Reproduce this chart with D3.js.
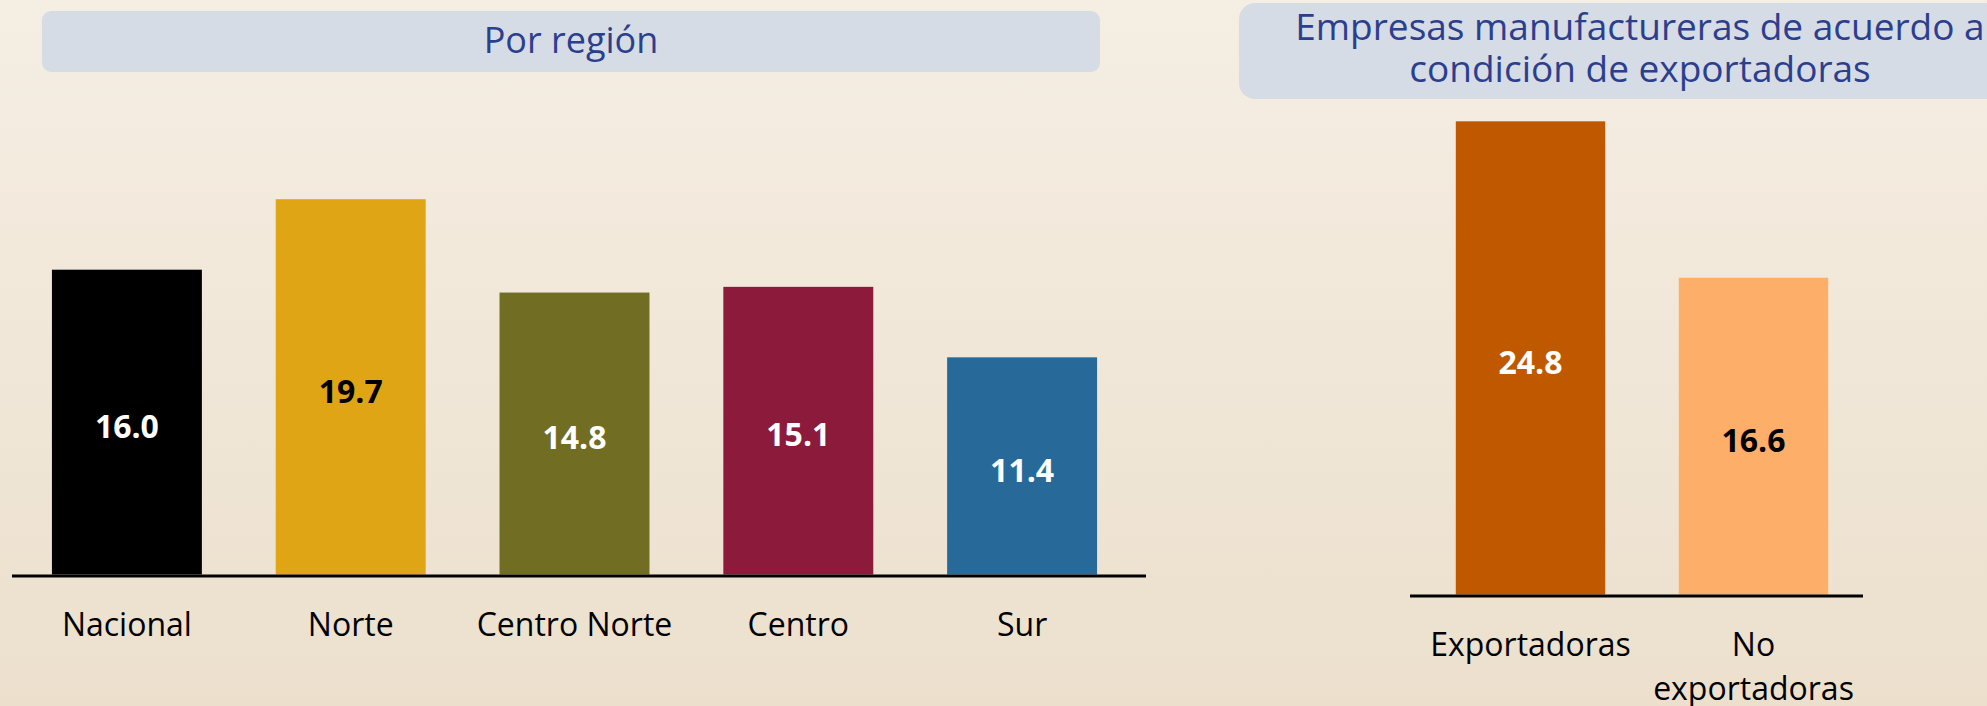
<!DOCTYPE html>
<html>
<head>
<meta charset="utf-8">
<script src="https://cdn.jsdelivr.net/npm/d3@7"></script>
<style>
  html, body { margin: 0; padding: 0; }
  svg { display: block; }
</style>
</head>
<body>
<script>
// ---- data ----
const regionCategories = ["Nacional", "Norte", "Centro Norte", "Centro", "Sur"];
const regionValues = [16.0, 19.7, 14.8, 15.1, 11.4];
const regionColors = ["#000000", "#DFA514", "#716D23", "#8C1B3B", "#276A99"];
const regionLabelColors = ["#ffffff", "#000000", "#ffffff", "#ffffff", "#ffffff"];
const regionTitle = "Por región";

const exportCategories = ["Exportadoras", "No exportadoras"];
const exportValues = [24.8, 16.6];
const exportColors = ["#C05800", "#FDAE68"];
const exportLabelColors = ["#ffffff", "#000000"];
const exportTitle = ["Empresas manufactureras de acuerdo a", "condición de exportadoras"];

// ---- setup ----
const W = 1987, H = 706;
const svg = d3.select("body").append("svg").attr("width", W).attr("height", H);

const defs = svg.append("defs");
const grad = defs.append("linearGradient").attr("id", "bg").attr("x1", 0).attr("y1", 0).attr("x2", 0).attr("y2", 1);
grad.append("stop").attr("offset", "0%").attr("stop-color", "#F5EEE3");
grad.append("stop").attr("offset", "100%").attr("stop-color", "#ECE0CD");
svg.append("rect").attr("width", W).attr("height", H).attr("fill", "url(#bg)");

const FONT = "'Open Sans', 'DejaVu Sans', sans-serif";
const titleColor = "#2B3F8E";
const boxColor = "#D6DCE5";

function wrap(textSel, width, lineH) {
  textSel.each(function () {
    const t = d3.select(this);
    const words = t.text().split(/\s+/);
    const x = t.attr("x") || 0;
    const y = t.attr("y");
    t.text(null);
    let line = [];
    let tspan = t.append("tspan").attr("x", x).attr("y", y);
    let n = 0;
    words.forEach(w => {
      line.push(w);
      tspan.text(line.join(" "));
      if (tspan.node().getComputedTextLength() > width && line.length > 1) {
        line.pop();
        tspan.text(line.join(" "));
        line = [w];
        n++;
        tspan = t.append("tspan").attr("x", x).attr("y", +y + n * lineH).text(w);
      }
    });
  });
}

function barChart(opts) {
  const g = svg.append("g");
  const x = d3.scaleBand().domain(opts.categories).range(opts.xRange)
    .paddingInner(0.33).paddingOuter(0.165);
  const y = d3.scaleLinear().domain(opts.yDomain).range(opts.yRange);
  const data = opts.categories.map((c, i) => ({ c, v: opts.values[i], col: opts.colors[i], lc: opts.labelColors[i] }));

  g.selectAll("rect.bar").data(data).join("rect")
    .attr("class", "bar")
    .attr("x", d => x(d.c))
    .attr("width", x.bandwidth())
    .attr("y", d => y(d.v))
    .attr("height", d => y(0) - y(d.v))
    .attr("fill", d => d.col);

  g.selectAll("text.val").data(data).join("text")
    .attr("class", "val")
    .attr("x", d => x(d.c) + x.bandwidth() / 2)
    .attr("y", d => (y(d.v) + y(0)) / 2)
    .attr("dy", "0.49em")
    .attr("text-anchor", "middle")
    .attr("font-family", FONT)
    .attr("font-weight", 700)
    .attr("font-size", 32)
    .attr("fill", d => d.lc)
    .text(d => d.v.toFixed(1));

  // baseline
  g.append("line")
    .attr("x1", opts.lineX[0]).attr("x2", opts.lineX[1])
    .attr("y1", y(0) + 1.5).attr("y2", y(0) + 1.5)
    .attr("stroke", "#000").attr("stroke-width", 3);

  // category axis
  const ax = g.append("g").attr("transform", `translate(0,${y(0)})`)
    .call(d3.axisBottom(x).tickSize(0).tickPadding(0));
  ax.select(".domain").remove();
  ax.selectAll("text")
    .attr("font-family", FONT)
    .attr("font-size", 32)
    .attr("fill", "#000")
    .attr("dy", null)
    .attr("y", 61)
    .attr("x", 0)
    .call(wrap, x.step(), 44);
  return g;
}

// ---- left title ----
svg.append("rect").attr("x", 42).attr("y", 11).attr("width", 1058).attr("height", 61)
  .attr("rx", 9).attr("fill", boxColor);
svg.append("text").attr("x", 571).attr("y", 53).attr("text-anchor", "middle")
  .attr("font-family", FONT).attr("font-size", 36).attr("fill", titleColor).text(regionTitle);

// ---- right title ----
svg.append("rect").attr("x", 1239).attr("y", 3).attr("width", 800).attr("height", 96)
  .attr("rx", 16).attr("fill", boxColor);
svg.append("text").attr("text-anchor", "middle")
  .attr("font-family", FONT).attr("font-size", 37).attr("fill", titleColor)
  .selectAll("tspan").data(exportTitle).join("tspan")
  .attr("x", 1640).attr("y", (d, i) => 40 + i * 41.5).text(d => d);

// ---- charts ----
barChart({
  categories: regionCategories, values: regionValues, colors: regionColors, labelColors: regionLabelColors,
  xRange: [15, 1134], yDomain: [0, 20], yRange: [574.5, 574.5 - 19.05 * 20], lineX: [12, 1146]
});

barChart({
  categories: exportCategories, values: exportValues, colors: exportColors, labelColors: exportLabelColors,
  xRange: [1419, 1865], yDomain: [0, 25], yRange: [594.5, 594.5 - 19.08 * 25], lineX: [1410, 1863]
});
</script>
</body>
</html>
